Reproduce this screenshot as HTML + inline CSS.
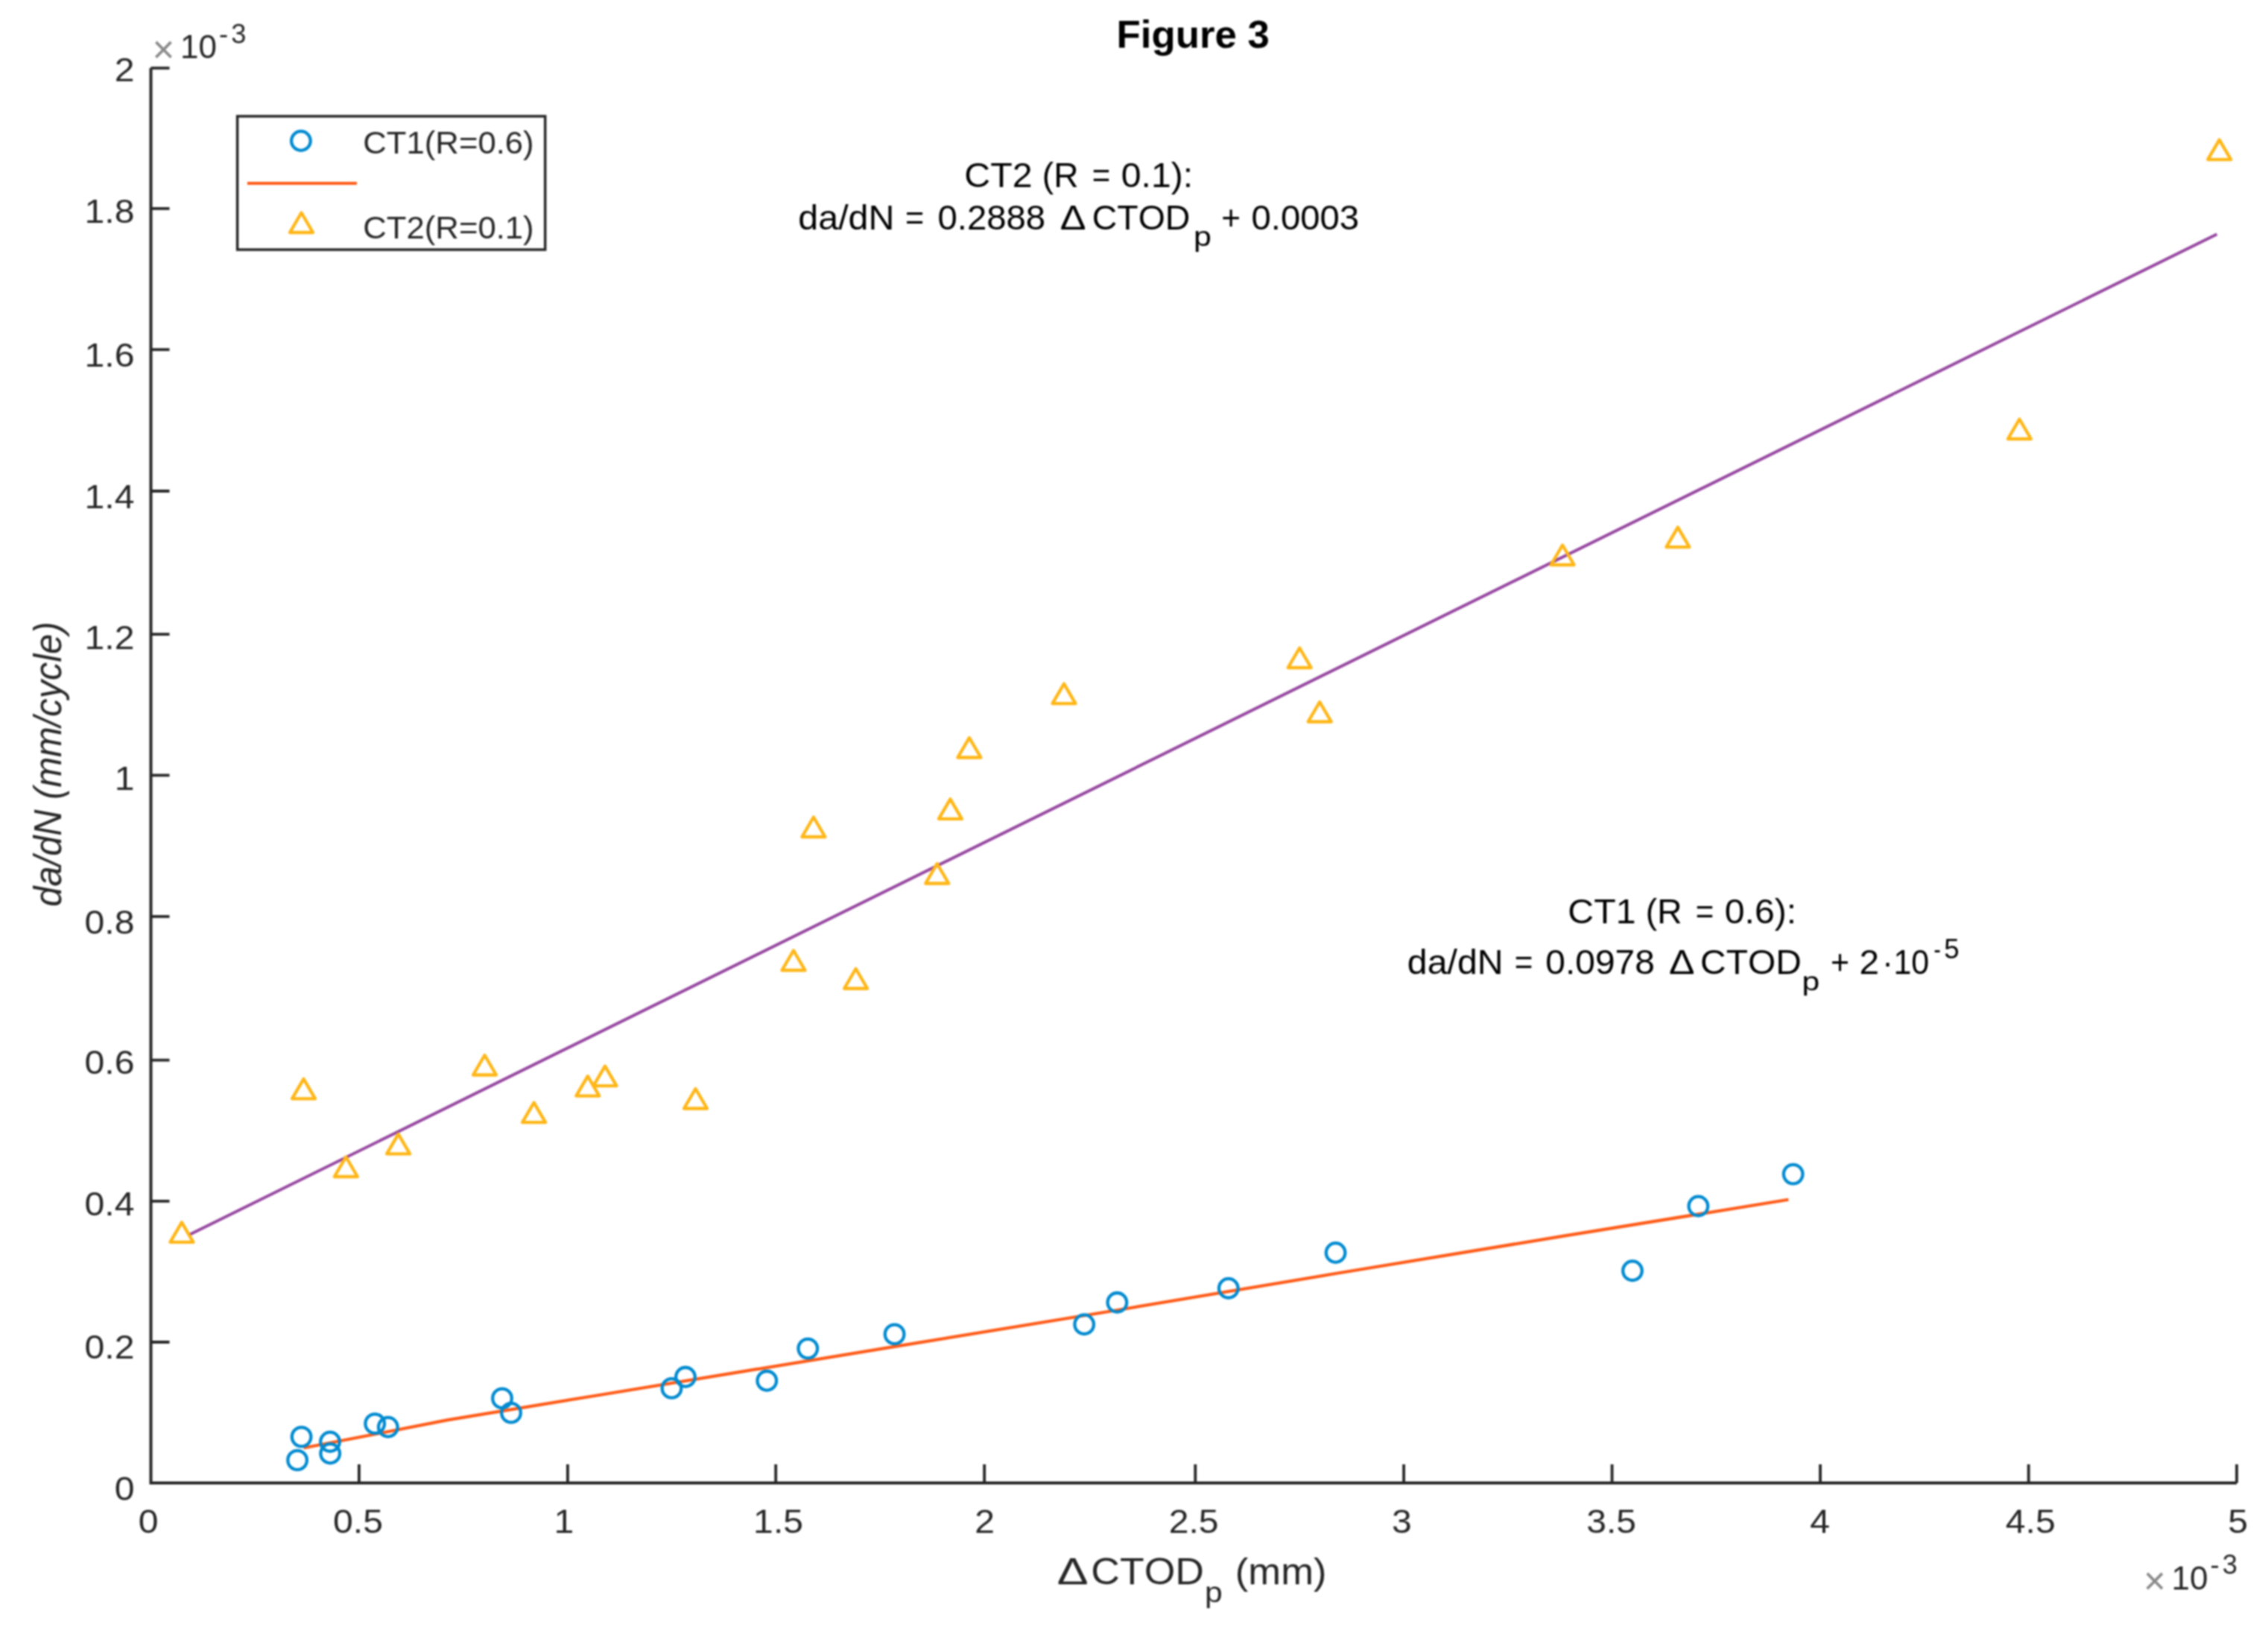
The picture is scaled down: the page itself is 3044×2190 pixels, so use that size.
<!DOCTYPE html>
<html><head><meta charset="utf-8"><title>Figure 3</title>
<style>
html,body{margin:0;padding:0;background:#fff;}
body{width:3044px;height:2190px;overflow:hidden;}
svg{display:block;filter:blur(0.8px);}
text{font-family:"Liberation Sans", Arial, sans-serif;font-kerning:none;}
</style></head><body>
<svg width="3044" height="2190" viewBox="0 0 3044 2190">
<rect x="0" y="0" width="3044" height="2190" fill="#fff"/>
<line x1="254.4" y1="1656.7" x2="2975.5" y2="314.3" stroke="#9646a0" stroke-width="4.0"/>
<polyline points="407.6,1943.0 510,1923.2 600,1905.6 800,1872.7 1000,1839.9 1200,1807.1 1500,1758 1800,1707.7 2100,1658.4 2400.4,1609.8" fill="none" stroke="#ff5a16" stroke-width="4.2" stroke-linejoin="round"/>
<g fill="none" stroke="#008ad0" stroke-width="4.3"><circle cx="404.6" cy="1928.1" r="12.8"/><circle cx="399.1" cy="1959.4" r="12.8"/><circle cx="443" cy="1934.7" r="12.8"/><circle cx="443.2" cy="1950.5" r="12.8"/><circle cx="503.2" cy="1910.4" r="12.8"/><circle cx="520.8" cy="1915" r="12.8"/><circle cx="674" cy="1876.4" r="12.8"/><circle cx="686" cy="1895.9" r="12.8"/><circle cx="901.5" cy="1862.9" r="12.8"/><circle cx="920" cy="1847.8" r="12.8"/><circle cx="1029.3" cy="1852.8" r="12.8"/><circle cx="1084.3" cy="1809.6" r="12.8"/><circle cx="1200.6" cy="1790.4" r="12.8"/><circle cx="1455.2" cy="1777.2" r="12.8"/><circle cx="1499.4" cy="1747.8" r="12.8"/><circle cx="1648.8" cy="1728.7" r="12.8"/><circle cx="1792.6" cy="1681" r="12.8"/><circle cx="2191" cy="1705.2" r="12.8"/><circle cx="2279.4" cy="1618.5" r="12.8"/><circle cx="2406.7" cy="1575.6" r="12.8"/></g>
<g fill="none" stroke="#ffb616" stroke-width="4.3" stroke-linejoin="round"><path d="M243.9,1640.3L259.4,1666.8L228.4,1666.8Z"/><path d="M407.5,1447.8L423.0,1474.3L392.0,1474.3Z"/><path d="M464.3,1552.5L479.8,1579.0L448.8,1579.0Z"/><path d="M534.6,1521.8L550.1,1548.3L519.1,1548.3Z"/><path d="M650.5,1416.0L666.0,1442.5L635.0,1442.5Z"/><path d="M716.6,1479.7L732.1,1506.2L701.1,1506.2Z"/><path d="M788.8,1444.2L804.3,1470.7L773.3,1470.7Z"/><path d="M812.0,1430.7L827.5,1457.2L796.5,1457.2Z"/><path d="M933.5,1461.0L949.0,1487.5L918.0,1487.5Z"/><path d="M1065.0,1275.5L1080.5,1302.0L1049.5,1302.0Z"/><path d="M1091.9,1096.5L1107.4,1123.0L1076.4,1123.0Z"/><path d="M1148.6,1300.0L1164.1,1326.5L1133.1,1326.5Z"/><path d="M1257.7,1159.0L1273.2,1185.5L1242.2,1185.5Z"/><path d="M1275.4,1072.3L1290.9,1098.8L1259.9,1098.8Z"/><path d="M1300.9,990.0L1316.4,1016.5L1285.4,1016.5Z"/><path d="M1428.0,917.6L1443.5,944.1L1412.5,944.1Z"/><path d="M1744.2,869.5L1759.7,896.0L1728.7,896.0Z"/><path d="M1771.2,942.0L1786.7,968.5L1755.7,968.5Z"/><path d="M2097.1,731.5L2112.6,758.0L2081.6,758.0Z"/><path d="M2251.9,707.6L2267.4,734.1L2236.4,734.1Z"/><path d="M2710.4,562.5L2725.9,589.0L2694.9,589.0Z"/><path d="M2978.7,187.6L2994.2,214.1L2963.2,214.1Z"/></g>
<path d="M202.5,91.3L202.5,1990.0L3002.0,1990.0" fill="none" stroke="#262626" stroke-width="4.0" stroke-linejoin="miter"/>
<path d="M202.5,1990.2h25M202.5,1801.0h25M481.9,1990.0v-25M202.5,1611.9h25M761.9,1990.0v-25M202.5,1422.7h25M1041.2,1990.0v-25M202.5,1229.8h25M1321.2,1990.0v-25M202.5,1040.4h25M1604.3,1990.0v-25M202.5,851.1h25M1884.1,1990.0v-25M202.5,659.0h25M2163.6,1990.0v-25M202.5,469.2h25M2443.1,1990.0v-25M202.5,279.8h25M2722.7,1990.0v-25M202.5,91.3h25M3002.0,1990.0v-25" stroke="#262626" stroke-width="3.8" fill="none"/>
<text transform="translate(180.50,2012.50) scale(1.0700,1)" font-size="45" fill="#262626" text-anchor="end">0</text>
<text transform="translate(180.50,1823.10) scale(1.0700,1)" font-size="45" fill="#262626" text-anchor="end">0.2</text>
<text transform="translate(180.50,1630.90) scale(1.0700,1)" font-size="45" fill="#262626" text-anchor="end">0.4</text>
<text transform="translate(180.50,1441.10) scale(1.0700,1)" font-size="45" fill="#262626" text-anchor="end">0.6</text>
<text transform="translate(180.50,1253.10) scale(1.0700,1)" font-size="45" fill="#262626" text-anchor="end">0.8</text>
<text transform="translate(180.50,1059.50) scale(1.0700,1)" font-size="45" fill="#262626" text-anchor="end">1</text>
<text transform="translate(180.50,870.70) scale(1.0700,1)" font-size="45" fill="#262626" text-anchor="end">1.2</text>
<text transform="translate(180.50,681.70) scale(1.0700,1)" font-size="45" fill="#262626" text-anchor="end">1.4</text>
<text transform="translate(180.50,491.60) scale(1.0700,1)" font-size="45" fill="#262626" text-anchor="end">1.6</text>
<text transform="translate(180.50,299.30) scale(1.0700,1)" font-size="45" fill="#262626" text-anchor="end">1.8</text>
<text transform="translate(180.50,109.00) scale(1.0700,1)" font-size="45" fill="#262626" text-anchor="end">2</text>
<text transform="translate(185.81,2056.90) scale(1.0700,1)" font-size="45" fill="#262626">0</text>
<text transform="translate(447.00,2056.90) scale(1.0700,1)" font-size="45" fill="#262626">0.5</text>
<text transform="translate(743.45,2056.90) scale(1.0700,1)" font-size="45" fill="#262626">1</text>
<text transform="translate(1011.11,2056.90) scale(1.0700,1)" font-size="45" fill="#262626">1.5</text>
<text transform="translate(1308.21,2056.90) scale(1.0700,1)" font-size="45" fill="#262626">2</text>
<text transform="translate(1568.63,2056.90) scale(1.0700,1)" font-size="45" fill="#262626">2.5</text>
<text transform="translate(1868.05,2056.90) scale(1.0700,1)" font-size="45" fill="#262626">3</text>
<text transform="translate(2129.13,2056.90) scale(1.0700,1)" font-size="45" fill="#262626">3.5</text>
<text transform="translate(2429.16,2056.90) scale(1.0700,1)" font-size="45" fill="#262626">4</text>
<text transform="translate(2691.79,2056.90) scale(1.0700,1)" font-size="45" fill="#262626">4.5</text>
<text transform="translate(2990.36,2056.90) scale(1.0700,1)" font-size="45" fill="#262626">5</text>
<text transform="translate(204.45,84.20) scale(1.0028,1)" font-size="51" fill="#8a8a8a">×</text><text transform="translate(241.95,77.80) scale(1.0007,1)" font-size="44" fill="#262626">10</text><text transform="translate(294.08,57.50) scale(0.9853,1)" font-size="37" fill="#262626">-</text><text transform="translate(310.32,57.50) scale(0.9805,1)" font-size="37" fill="#262626">3</text>
<text transform="translate(2876.95,2138.90) scale(1.0028,1)" font-size="51" fill="#8a8a8a">×</text><text transform="translate(2914.45,2132.50) scale(1.0007,1)" font-size="44" fill="#262626">10</text><text transform="translate(2966.58,2112.20) scale(0.9853,1)" font-size="37" fill="#262626">-</text><text transform="translate(2982.82,2112.20) scale(0.9805,1)" font-size="37" fill="#262626">3</text>
<text transform="translate(1418.73,2126.00) scale(1.2411,1)" font-size="50.5" fill="#262626">Δ</text>
<text transform="translate(1464.18,2126.00) scale(1.0617,1)" font-size="50.5" fill="#262626">CTOD</text>
<text transform="translate(1616.95,2150.00) scale(1.0809,1)" font-size="39.5" fill="#262626">p</text>
<text transform="translate(1657.84,2126.00) scale(1.0421,1)" font-size="50.5" fill="#262626">(mm)</text>
<g transform="translate(82.2,1216) rotate(-90)"><text transform="translate(-0.65,0.00) scale(0.9390,1)" font-size="52" font-style="italic" fill="#262626">da/dN (mm/cycle)</text></g>
<text transform="translate(1498.47,64.30) scale(1.0236,1)" font-size="51.6" font-weight="bold" fill="#000">Figure 3</text>
<rect x="318.6" y="156" width="413.1" height="179" fill="#fff" stroke="#262626" stroke-width="3.5"/>
<circle cx="403.9" cy="189" r="12.8" fill="none" stroke="#008ad0" stroke-width="4.3"/>
<line x1="331.9" y1="246" x2="478.9" y2="246" stroke="#ff5a16" stroke-width="4"/>
<path d="M404.5,285.5L420.0,312.0L389.0,312.0Z" fill="none" stroke="#ffb616" stroke-width="4.3" stroke-linejoin="round"/>
<text transform="translate(487.28,206.00) scale(1.0402,1)" font-size="42" fill="#262626">CT1(R=0.6)</text>
<text transform="translate(487.28,319.60) scale(1.0402,1)" font-size="42" fill="#262626">CT2(R=0.1)</text>
<text transform="translate(1294.24,250.50) scale(1.0516,1)" font-size="46" fill="#000">CT2</text><text transform="translate(1398.84,250.50) scale(1.0034,1)" font-size="46" fill="#000">(R</text><text transform="translate(1465.65,250.50) scale(0.9128,1)" font-size="46" fill="#000">=</text><text transform="translate(1504.72,250.50) scale(1.0483,1)" font-size="46" fill="#000">0.1):</text>
<text transform="translate(2104.25,1238.80) scale(1.0508,1)" font-size="46" fill="#000">CT1</text><text transform="translate(2208.84,1238.80) scale(1.0034,1)" font-size="46" fill="#000">(R</text><text transform="translate(2275.65,1238.80) scale(0.9128,1)" font-size="46" fill="#000">=</text><text transform="translate(2314.72,1238.80) scale(1.0483,1)" font-size="46" fill="#000">0.6):</text>
<text transform="translate(1071.27,308.30) scale(1.0532,1)" font-size="46" fill="#000">da/dN</text>
<text transform="translate(1214.89,308.30) scale(0.9397,1)" font-size="46" fill="#000">=</text>
<text transform="translate(1258.45,308.30) scale(1.0292,1)" font-size="46" fill="#000">0.2888</text>
<text transform="translate(1422.75,308.30) scale(1.1336,1)" font-size="46" fill="#000">Δ</text>
<text transform="translate(1465.64,308.30) scale(1.0113,1)" font-size="46" fill="#000">CTOD</text>
<text transform="translate(1602.03,329.60) scale(1.1921,1)" font-size="36" fill="#000">p</text>
<text transform="translate(1639.34,308.30) scale(0.9620,1)" font-size="46" fill="#000">+</text>
<text transform="translate(1679.45,308.30) scale(1.0287,1)" font-size="46" fill="#000">0.0003</text>
<text transform="translate(1888.87,1307.20) scale(1.0490,1)" font-size="46" fill="#000">da/dN</text>
<text transform="translate(2032.64,1307.20) scale(0.9173,1)" font-size="46" fill="#000">=</text>
<text transform="translate(2074.33,1307.20) scale(1.0416,1)" font-size="46" fill="#000">0.0978</text>
<text transform="translate(2240.06,1307.20) scale(1.1229,1)" font-size="46" fill="#000">Δ</text>
<text transform="translate(2282.06,1307.20) scale(1.0431,1)" font-size="46" fill="#000">CTOD</text>
<text transform="translate(2418.45,1328.50) scale(1.1860,1)" font-size="36" fill="#000">p</text>
<text transform="translate(2457.00,1307.20) scale(0.9352,1)" font-size="46" fill="#000">+</text>
<text transform="translate(2495.49,1307.20) scale(1.0403,1)" font-size="46" fill="#000">2</text>
<text transform="translate(2526.17,1307.20) scale(0.9589,1)" font-size="46" fill="#000">·</text>
<text transform="translate(2541.42,1307.20) scale(0.9353,1)" font-size="46" fill="#000">10</text>
<text transform="translate(2595.46,1285.80) scale(0.7528,1)" font-size="37" fill="#000">-</text>
<text transform="translate(2609.33,1285.80) scale(0.9919,1)" font-size="37" fill="#000">5</text>
</svg>
</body></html>
